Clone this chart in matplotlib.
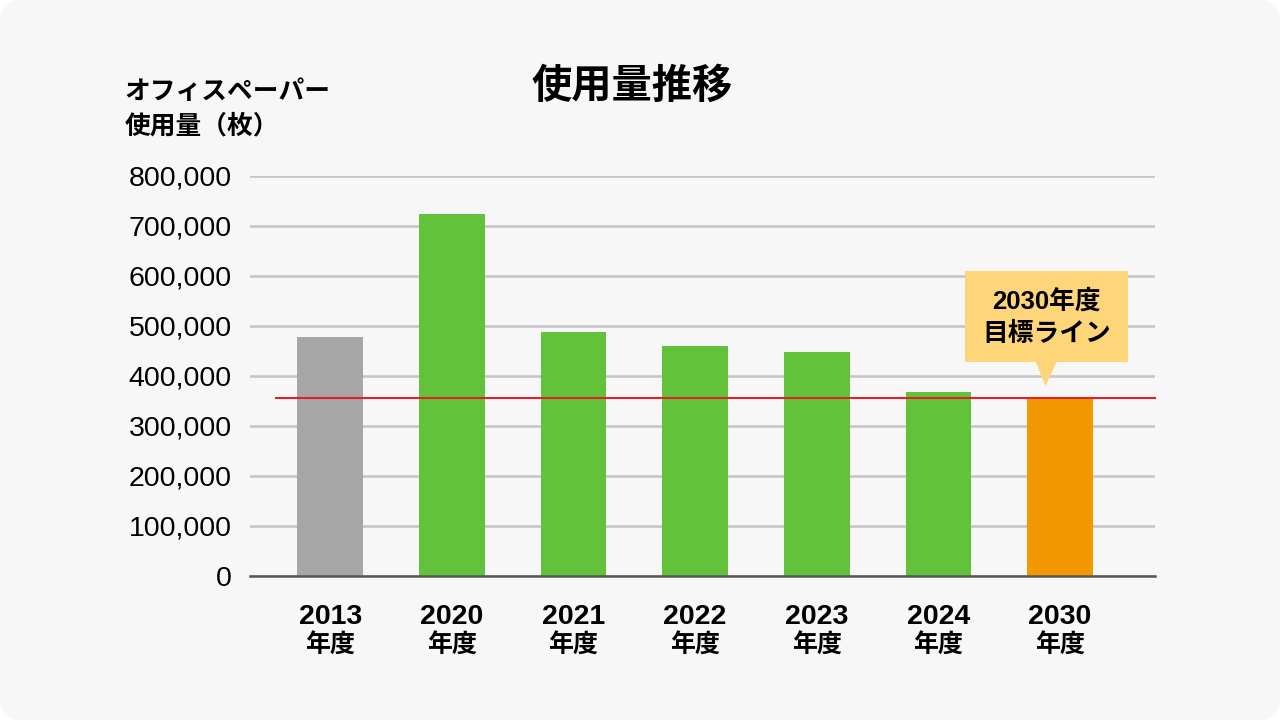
import matplotlib.pyplot as plt
from matplotlib.patches import FancyBboxPatch, Rectangle, Polygon

plt.rcParams['font.family'] = ['Noto Sans CJK JP', 'DejaVu Sans']

# データ
years = ['2013', '2020', '2021', '2022', '2023', '2024', '2030']
usage = [477000, 724000, 488000, 460000, 448000, 368000, 356000]
bar_colors = ['#a6a6a6', '#62c23a', '#62c23a', '#62c23a', '#62c23a', '#62c23a', '#f39800']
target_2030 = 356000
y_ticks = [0, 100000, 200000, 300000, 400000, 500000, 600000, 700000, 800000]

fig = plt.figure(figsize=(12.8, 7.2), dpi=100)
fig.patch.set_facecolor('white')
# 角丸の背景
bg = FancyBboxPatch((0, 0), 12.8, 7.2, boxstyle='round,pad=0,rounding_size=0.22',
                    transform=fig.dpi_scale_trans, facecolor='#f7f7f7', edgecolor='none', zorder=-10)
fig.patches.append(bg)

ax = fig.add_axes([0.1953, 0.2, 0.707, 0.5556])
ax.set_facecolor('none')

x = list(range(len(years)))
ax.bar(x, usage, width=0.54, color=bar_colors, zorder=3)

# 目標ライン
ax.plot([-0.45, 6.78], [target_2030, target_2030], color='#e0202a', lw=1.5, zorder=4, clip_on=False)

ax.set_xlim(-0.66, 6.78)
ax.set_ylim(0, 800000)
ax.set_yticks(y_ticks)
ax.set_yticklabels([f'{v:,}' for v in y_ticks], fontfamily='Liberation Sans', fontsize=20.5)
ax.yaxis.grid(True, color='#c4c4c4', lw=1.8, zorder=1)
ax.tick_params(axis='y', length=0, pad=13)

# x軸ラベル（年 + 年度）
ax.set_xticks(x)
ax.set_xticklabels(years, fontsize=20.5, fontweight='bold', fontfamily='Liberation Sans')
for lbl in ax.get_xticklabels():
    lbl.set_verticalalignment('center')
ax.tick_params(axis='x', length=0, pad=29.5)
for xi in x:
    ax.text(xi, -0.175, '年度', transform=ax.get_xaxis_transform(), ha='center', va='center',
            fontsize=18, fontweight='bold')

for s in ['top', 'right', 'left']:
    ax.spines[s].set_visible(False)
ax.spines['bottom'].set_color('#555555')
ax.spines['bottom'].set_linewidth(1.8)
ax.spines['bottom'].set_zorder(5)

# 吹き出し
ax.add_patch(Rectangle((5.22, 428000), 1.34, 182000, facecolor='#ffd57a', edgecolor='none',
                       zorder=6, clip_on=False))
ax.add_patch(Polygon([[5.80, 428000], [5.97, 428000], [5.88, 380000]], closed=True,
                     facecolor='#ffd57a', edgecolor='none', zorder=6, clip_on=False))
ax.text(5.89, 517000, '2030年度\n目標ライン', ha='center', va='center', fontsize=18.5,
        fontweight='bold', linespacing=1.4, zorder=7,
        fontfamily=['Liberation Sans', 'Noto Sans CJK JP'])

# タイトル・軸ラベル
fig.text(0.494, 0.88, '使用量推移', ha='center', va='center', fontsize=29, fontweight='bold')
fig.text(0.097, 0.849, 'オフィスペーパー\n使用量（枚）', ha='left', va='center', fontsize=18.5,
         fontweight='bold', linespacing=1.4)

fig.savefig('out.png', dpi=100, facecolor=fig.get_facecolor())
